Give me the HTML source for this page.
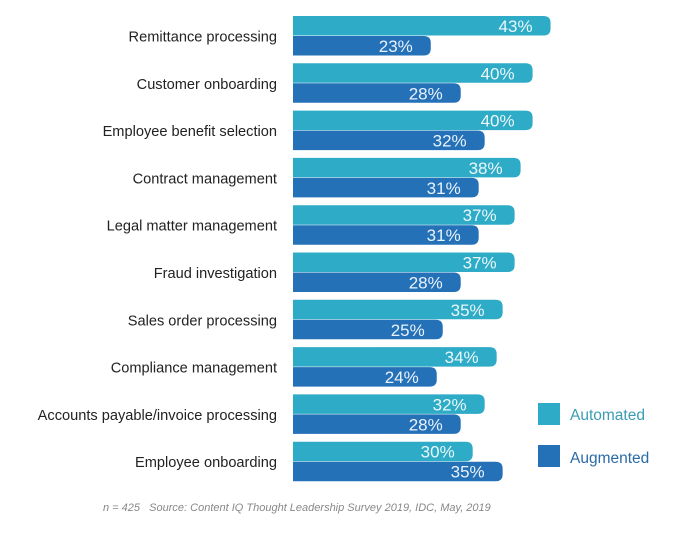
<!DOCTYPE html>
<html><head><meta charset="utf-8"><style>
body{margin:0;background:#fff;}
svg{display:block;font-family:"Liberation Sans",Arial,sans-serif;}
</style></head><body>
<svg id="chart" width="685" height="538">
<g id="bars"></g>
<rect x="538" y="403" width="22" height="22" fill="#2eabc6"/>
<text x="570" y="420" font-size="15.5" fill="#3a9cb2">Automated</text>
<rect x="538" y="445" width="22" height="22" fill="#2471b8"/>
<text x="570" y="463" font-size="15.5" fill="#2a6aa8">Augmented</text>
<text x="103" y="511" font-size="11" font-style="italic" fill="#888" style="white-space:pre">n = 425   Source: Content IQ Thought Leadership Survey 2019, IDC, May, 2019</text>
</svg>
<script>
const categories=["Remittance processing","Customer onboarding","Employee benefit selection","Contract management","Legal matter management","Fraud investigation","Sales order processing","Compliance management","Accounts payable/invoice processing","Employee onboarding"];
const automated=[43,40,40,38,37,37,35,34,32,30];
const augmented=[23,28,32,31,31,28,25,24,28,35];
const x0=293,scale=5.99,top0=16,step=47.3,bh=19.5;
const ns="http://www.w3.org/2000/svg";
const g=document.getElementById('bars');
function xs(v){return v*scale;}
function bar(x,y,w,h,fill){
  const r=7;
  const p=document.createElementNS(ns,'path');
  p.setAttribute('d',`M${x},${y}H${x+w-r}Q${x+w},${y} ${x+w},${y+r}V${y+h-r}Q${x+w},${y+h} ${x+w-r},${y+h}H${x}Z`);
  p.setAttribute('fill',fill);
  return p;
}
function txt(x,y,s,size,fill,anchor){
  const t=document.createElementNS(ns,'text');
  t.setAttribute('x',x);t.setAttribute('y',y);t.setAttribute('font-size',size);
  t.setAttribute('fill',fill);t.setAttribute('text-anchor',anchor);t.textContent=s;return t;
}
categories.forEach((c,i)=>{
  const y=top0+i*step;
  const l=txt(277,y+bh+6,c,14.6,"#222","end");
  
  
  g.appendChild(l);
  const a=bar(x0,y,xs(automated[i]),bh,"#2eabc6");
  
  
  g.appendChild(a);
  const b=bar(x0,y+bh+0.5,xs(augmented[i]),bh,"#2471b8");
  
  
  g.appendChild(b);
  const ta=txt(x0+xs(automated[i])-18,y+16,automated[i]+"%",17,"#eaf8fb","end");
  
  
  g.appendChild(ta);
  const tb=txt(x0+xs(augmented[i])-18,y+bh+16.5,augmented[i]+"%",17,"#eaf2fb","end");
  
  
  g.appendChild(tb);
});
</script>
</body></html>
